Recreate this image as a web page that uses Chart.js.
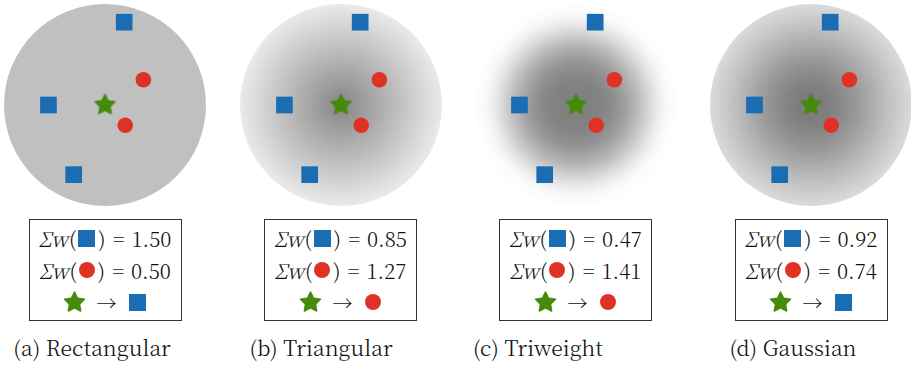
<!DOCTYPE html>
<html>
<head>
<meta charset="utf-8">
<script src="https://cdn.jsdelivr.net/npm/chart.js@4.4.1/dist/chart.umd.min.js"></script>
<style>
  html, body { margin: 0; padding: 0; background: #fff; }
  #wrap { position: relative; width: 911px; height: 366px; overflow: hidden; color: #111; }
  .panel { position: absolute; top: 0; width: 210px; height: 210px; }
  .box { position: absolute; top: 219px; width: 153px; height: 102px; box-sizing: border-box; border: 1px solid #333; background: #fff; }
  .ln { position: absolute; left: 0; right: 0; height: 32px; display: flex; align-items: center; justify-content: center; font-size: 20.5px; font-weight: 300; white-space: nowrap; }
  .ln i { font-style: italic; margin-right: 1px; }
  .eq { margin: 0 7px 0 7px; }
  .sq { display: inline-block; width: 17px; height: 17px; background: #1a6db3; margin: 0 3px 0 2px; }
  .ci { display: inline-block; width: 16px; height: 16px; border-radius: 50%; background: #df3226; margin: 0 3px 0 2px; }
  .arrow { margin: 0 10px; font-size: 20px; }
  .cap { position: absolute; top: 331px; width: 240px; text-align: center; font-size: 21.3px; font-weight: 300; white-space: nowrap; }
</style>
</head>
<body>
<div id="wrap"></div>
<script>
// kernels and captions
const kernelNames = ['Rectangular', 'Triangular', 'Triweight', 'Gaussian'];
const captionLabels = ['(a)', '(b)', '(c)', '(d)'];

// sample points (unit = kernel bandwidth), same in every panel
const squareX = [0.19, -0.56, -0.31];
const squareY = [0.82, 0.0, -0.69];
const circleX = [0.38, 0.20];
const circleY = [0.25, -0.20];
const queryX = [0];
const queryY = [0];

// summed weights per class and the predicted class
const sumSquare = ['1.50', '0.85', '0.47', '0.92'];
const sumCircle = ['0.50', '1.27', '1.41', '0.74'];
const predicted = ['square', 'circle', 'circle', 'square'];

const blue = '#1a6db3';
const red = '#df3226';
const green = '#468a0c';

const serifFont = '"Noto Serif CJK SC", "Liberation Serif", serif';

// layout
const panelCenters = [105, 340.5, 575.5, 811];
const captionCenters = [92, 321, 538, 793];
const axisLimit = 1.04;

// grey level of the disc for distance r (0..1) from the query point
function shadeFor(kernel, r) {
    if (kernel === 'Rectangular') return 192;
    if (kernel === 'Triangular') return 234 - 100 * (1 - r);
    if (kernel === 'Triweight') return 253 - 126 * Math.pow(1 - r * r * r, 2.5);
    return 255 - 132 * Math.exp(-r * r / (2 * 0.63 * 0.63));
}

const kernelDisc = {
    id: 'kernelDisc',
    beforeDatasetsDraw(chart, args, opts) {
        const ctx = chart.ctx;
        const x = chart.scales.x, y = chart.scales.y;
        const cx = x.getPixelForValue(0);
        const cy = y.getPixelForValue(0);
        const r = x.getPixelForValue(1) - cx;
        const grad = ctx.createRadialGradient(cx, cy, 0, cx, cy, r);
        for (let i = 0; i <= 50; i++) {
            const t = i / 50;
            const v = Math.round(shadeFor(opts.kernel, t));
            grad.addColorStop(t, 'rgb(' + v + ',' + v + ',' + v + ')');
        }
        ctx.save();
        ctx.beginPath();
        ctx.arc(cx, cy, r, 0, Math.PI * 2);
        ctx.fillStyle = grad;
        ctx.fill();
        ctx.restore();
    }
};

function makeStar(R) {
    const c = document.createElement('canvas');
    const s = Math.ceil(R * 2 + 4);
    c.width = s;
    c.height = s;
    const g = c.getContext('2d');
    g.translate(s / 2, s / 2);
    g.beginPath();
    for (let i = 0; i < 10; i++) {
        const rad = i % 2 ? R * 0.5 : R;
        const a = -Math.PI / 2 + i * Math.PI / 5;
        g.lineTo(rad * Math.cos(a), rad * Math.sin(a));
    }
    g.closePath();
    g.fillStyle = green;
    g.strokeStyle = green;
    g.lineJoin = 'round';
    g.lineWidth = 1.5;
    g.fill();
    g.stroke();
    return c;
}

const starCanvas = makeStar(10.5);
const starUrl = starCanvas.toDataURL();

function toPoints(xs, ys) {
    return xs.map((v, i) => ({ x: v, y: ys[i] }));
}

const wrap = document.getElementById('wrap');
wrap.style.fontFamily = serifFont;

kernelNames.forEach((name, k) => {
    const cx = panelCenters[k];

    // disc + points
    const panel = document.createElement('div');
    panel.className = 'panel';
    panel.style.left = (cx - 105) + 'px';
    const canvas = document.createElement('canvas');
    panel.appendChild(canvas);
    wrap.appendChild(panel);

    new Chart(canvas, {
        type: 'scatter',
        data: {
            datasets: [{
                data: toPoints(squareX, squareY),
                pointStyle: 'rect',
                pointRadius: 11.8,
                backgroundColor: blue,
                borderWidth: 0,
                clip: false
            }, {
                data: toPoints(circleX, circleY),
                pointStyle: 'circle',
                pointRadius: 7.8,
                backgroundColor: red,
                borderWidth: 0,
                clip: false
            }, {
                data: toPoints(queryX, queryY),
                pointStyle: starCanvas,
                pointRadius: 11,
                backgroundColor: green,
                borderWidth: 0,
                clip: false
            }]
        },
        options: {
            responsive: true,
            maintainAspectRatio: false,
            animation: false,
            events: [],
            layout: { padding: 0, autoPadding: false },
            scales: {
                x: { type: 'linear', min: -axisLimit, max: axisLimit, display: false },
                y: { type: 'linear', min: -axisLimit, max: axisLimit, display: false }
            },
            plugins: {
                legend: { display: false },
                tooltip: { enabled: false },
                kernelDisc: { kernel: name }
            }
        },
        plugins: [kernelDisc]
    });

    // weight box
    const box = document.createElement('div');
    box.className = 'box';
    box.style.left = (cx - 76.5) + 'px';
    const result = predicted[k] === 'square' ? '<span class="sq"></span>' : '<span class="ci"></span>';
    box.innerHTML =
        '<div class="ln" style="top:2px"><i>Σw</i>(<span class="sq"></span>)<span class="eq">=</span>' + sumSquare[k] + '</div>' +
        '<div class="ln" style="top:34px"><i>Σw</i>(<span class="ci"></span>)<span class="eq">=</span>' + sumCircle[k] + '</div>' +
        '<div class="ln" style="top:66px"><img src="' + starUrl + '" width="' + starCanvas.width + '" height="' + starCanvas.height + '"><span class="arrow">→</span>' + result + '</div>';
    box.querySelectorAll('.ln').forEach(el => { el.style.fontFamily = serifFont; });
    wrap.appendChild(box);

    // caption
    const cap = document.createElement('div');
    cap.className = 'cap';
    cap.style.left = (captionCenters[k] - 120) + 'px';
    cap.style.fontFamily = serifFont;
    cap.textContent = captionLabels[k] + ' ' + name;
    wrap.appendChild(cap);
});
</script>
</body>
</html>
